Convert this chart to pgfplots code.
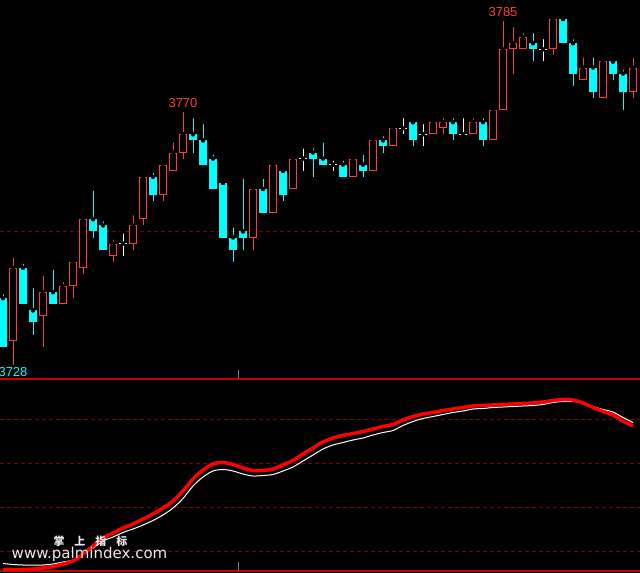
\documentclass[border=0pt]{standalone}
\usepackage{pgfplots}
\usepackage{pgfplotstable}
\pgfplotsset{compat=1.18}
\usepackage{fontspec}
\setmainfont{Liberation Sans}
\newfontfamily\wmfont{DejaVu Sans}
\newfontfamily\cjk{Noto Sans CJK SC}
\definecolor{upred}{RGB}{255,60,60}
\definecolor{dncyan}{RGB}{0,255,255}
\definecolor{gridred}{RGB}{130,0,0}
\definecolor{sepred}{RGB}{200,0,0}
\definecolor{wm}{RGB}{235,235,235}
% candles: x open high low close
\pgfplotstableread{
x o h l c
1 3732 3746 3728 3744
4 3736 3743 3731 3740
6 3738 3742 3738 3741
7 3741 3745 3739 3745
8 3744 3752 3743 3752
11 3746 3749 3745 3748
13 3748 3753 3747 3751
14 3752 3759 3751 3759
16 3756 3761 3755 3761
17 3760 3765 3760 3763
18 3763 3770 3762 3766
25 3749 3757 3747 3757
27 3753 3761 3753 3761
29 3757 3762 3757 3762
35 3759 3762 3759 3762
37 3760 3765 3760 3765
39 3764 3767 3764 3767
43 3766 3768 3766 3768
44 3767 3769 3766 3768
47 3766 3769 3766 3768
49 3765 3770 3765 3770
50 3770 3785 3770 3780
51 3780 3784 3776 3781
52 3780 3783 3780 3782
55 3780 3785 3779 3785
58 3775 3779 3775 3777
60 3772 3778 3772 3778
63 3773 3779 3772 3777
}\upcandles
\pgfplotstableread{
x o h l c
0 3739 3740 3731 3731
2 3744 3745 3738 3738
3 3737 3741 3733 3735
5 3740 3744 3738 3738
9 3752 3757 3749 3750
10 3751 3752 3747 3747
15 3759 3760 3755 3756
19 3766 3769 3763 3765
20 3765 3768 3761 3761
21 3762 3763 3757 3757
22 3758 3758 3749 3749
23 3749 3751 3745 3747
24 3750 3759 3747 3749
26 3757 3759 3753 3753
28 3760 3760 3755 3756
31 3763 3764 3759 3762
32 3762 3765 3761 3761
34 3761 3762 3759 3759
36 3761 3763 3759 3760
38 3765 3766 3763 3764
41 3768 3768 3764 3765
45 3768 3769 3765 3766
48 3768 3769 3764 3765
53 3781 3783 3778 3780
56 3785 3785 3781 3781
57 3781 3782 3774 3776
59 3777 3779 3772 3773
61 3778 3778 3775 3776
62 3776 3777 3770 3773
}\dncandles
\pgfplotstableread{
x o h l c
12 3748 3750 3746 3748
30 3762 3764 3760 3762
33 3761 3762 3760 3761
40 3767 3769 3766 3767
42 3766 3768 3764 3766
46 3766 3769 3766 3766
54 3780 3782 3778 3780
}\djcandles
\pgfplotsset{
  vbar/.style 2 args={only marks, mark=none, error bars/.cd, y dir=minus, y explicit, error mark=none,
    error bar style={draw=#1, solid, line cap=butt, line width=#2}},
}
\begin{document}
\begin{tikzpicture}
\useasboundingbox (0pt,0pt) rectangle (640pt,573pt);
\clip (0pt,0pt) rectangle (640pt,573pt);
\fill[black] (0pt,0pt) rectangle (640pt,573pt);
\begin{axis}[at={(0pt,194pt)}, anchor=south west, width=640pt, height=379pt, scale only axis,
  xmin=-0.3, xmax=63.7, ymin=3725.69, ymax=3788.13,
  axis line style={draw=none},
  xtick={23.5}, xticklabels={}, ytick={3750}, yticklabels={},
  tick pos=left, tick align=inside, major tick length=9pt,
  xtick style={gray, line width=1pt}, ytick style={draw=none},
  ymajorgrids, grid style={gridred, dash pattern=on 4pt off 3pt, line width=0.8pt}]
% wicks
\addplot[vbar={upred}{1pt}] table[x=x, y=h, y error minus expr=\thisrow{h}-\thisrow{l}] {\upcandles};
\addplot[vbar={dncyan}{1pt}] table[x=x, y=h, y error minus expr=\thisrow{h}-\thisrow{l}] {\dncandles};
\addplot[vbar={white}{1pt}] table[x=x, y=h, y error minus expr=\thisrow{h}-\thisrow{l}] {\djcandles};
% bodies
\addplot[vbar={dncyan}{8pt}] table[x=x, y=o, y error minus expr=\thisrow{o}-\thisrow{c}] {\dncandles};
\addplot[vbar={upred}{8pt}] table[x=x, y=c, y error minus expr=\thisrow{c}-\thisrow{o}] {\upcandles};
\addplot[vbar={black}{6pt}] table[x=x, y expr=\thisrow{c}-0.165, y error minus expr=\thisrow{c}-\thisrow{o}-0.33] {\upcandles};
\addplot[only marks, mark=none, error bars/.cd, x dir=both, x fixed=0.4, error mark=none,
  error bar style={draw=white, solid, line width=1pt}] table[x=x, y=o] {\djcandles};
\node[anchor=south, inner sep=0pt, yshift=2pt, text=upred, font=\fontsize{13}{13}\selectfont] at (axis cs:18,3770) {3770};
\node[anchor=south, inner sep=0pt, yshift=2pt, text=upred, font=\fontsize{13}{13}\selectfont] at (axis cs:50,3785) {3785};
\node[anchor=north, inner sep=0pt, yshift=-2pt, text=dncyan, font=\fontsize{13}{13}\selectfont] at (axis cs:1,3728) {3728};
\end{axis}
\begin{axis}[at={(0pt,2pt)}, anchor=south west, width=640pt, height=192pt, scale only axis,
  xmin=-0.3, xmax=63.7, ymin=0, ymax=192, clip=false,
  axis line style={draw=none},
  xtick={23.5}, xticklabels={}, ytick={20,64,108,152}, yticklabels={},
  tick pos=left, tick align=inside, major tick length=9pt,
  xtick style={gray, line width=1pt}, ytick style={draw=none},
  ymajorgrids, grid style={gridred, dash pattern=on 4pt off 3pt, line width=0.8pt}]
\draw[sepred, line width=1.2pt] (rel axis cs:0,1) -- (rel axis cs:1,1);
\draw[sepred, line width=1.5pt] (rel axis cs:0,0) -- (rel axis cs:1,0);
\addplot[white, line width=1pt, smooth] coordinates {
(0,7.5)(1,6.5)(2,6)(3,6)(4,6)(5,7)(6,9)(7,11)(8,17)(9,23)(10,30)(11,34)(12,38.5)(13,42)(14,46)(15,50.5)(16,56)(17,63)(18,72.5)(19,85)(20,94)(21,100)(22,101.5)(23,100)(24,97)(25,95)(26,95.5)(27,96.5)(28,100)(29,104)(30,110)(31,116)(32,122)(33,126)(34,128.5)(35,131)(36,133)(37,136)(38,138.5)(39,140.5)(40,145.5)(41,149.5)(42,152.5)(43,154.5)(44,156.5)(45,158.5)(46,160)(47,162)(48,162.5)(49,163.5)(50,164)(51,164.5)(52,165)(53,165.5)(54,166.5)(55,168.5)(56,169.5)(57,169.5)(58,168)(59,164.5)(60,161.5)(61,159)(62,153.5)(63,148.5)};
\addplot[red, line width=3.5pt, smooth] coordinates {
(0,1.5)(1,1.5)(2,1.5)(3,2)(4,3)(5,4.5)(6,7)(7,10)(8,17)(9,25)(10,33)(11,38)(12,43)(13,47)(14,52)(15,57)(16,63)(17,70)(18,80)(19,92)(20,101)(21,107)(22,108.5)(23,106.5)(24,103)(25,100.5)(26,100.5)(27,102)(28,106)(29,110.5)(30,117)(31,123)(32,129)(33,133)(34,135.5)(35,137.5)(36,139.5)(37,142)(38,144.5)(39,146.5)(40,151)(41,154.5)(42,157)(43,158.5)(44,160.5)(45,162)(46,163.5)(47,165)(48,165.5)(49,166)(50,166.5)(51,167)(52,167.5)(53,168)(54,169)(55,170.5)(56,171.5)(57,171)(58,168)(59,163.5)(60,159.5)(61,156)(62,150)(63,145)};
\end{axis}
\node[anchor=base, inner sep=0pt, text=wm, font=\cjk\bfseries\fontsize{11}{11}\selectfont] at (90.5pt,27.5pt) {掌\hspace{10pt}上\hspace{10pt}指\hspace{10pt}标};
\node[anchor=base, inner sep=0pt, text=wm, font=\wmfont\fontsize{15}{15}\selectfont] at (89.5pt,14.5pt) {www.palmindex.com};
\end{tikzpicture}
\end{document}
